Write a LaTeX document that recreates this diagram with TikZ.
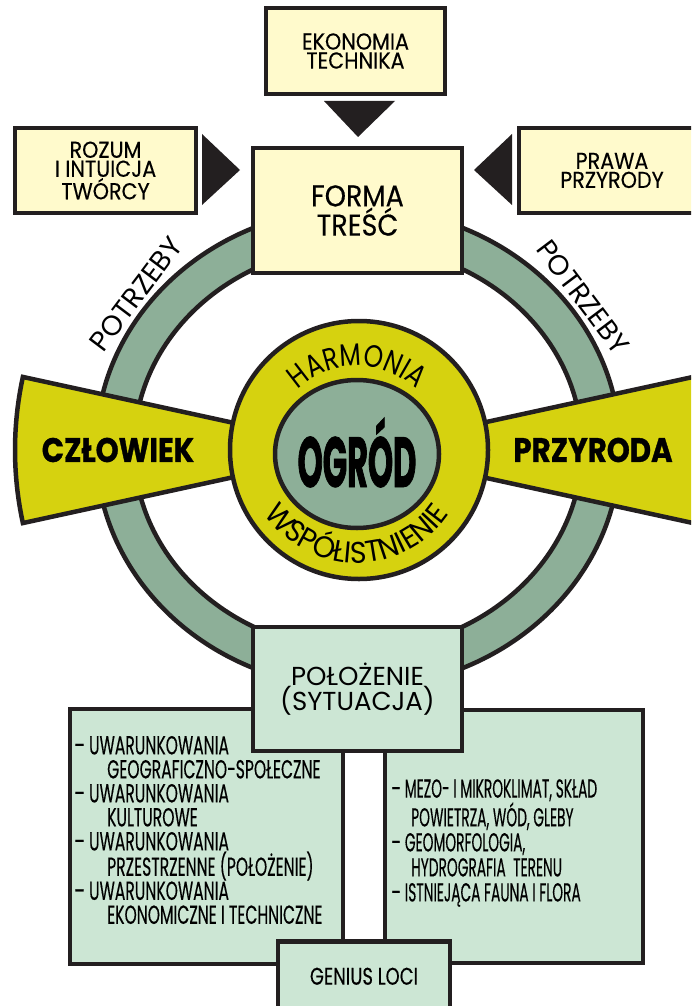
\documentclass[tikz,border=0pt]{standalone}
\usepackage{fontspec}
\setmainfont{Poppins}
\newfontfamily\labelfont[FakeStretch=0.9, FakeBold=0.3]{Poppins}
\newfontfamily\listfont[FakeStretch=0.6, FakeBold=0.3]{Poppins}
\newfontfamily\narrowlistfont[FakeStretch=0.53, FakeBold=0.3]{Poppins}
\newfontfamily\geniusfont[FakeStretch=0.75, FakeBold=0.3]{Poppins}
\newfontfamily\harmfont[FakeStretch=0.8]{Poppins}
\newfontfamily\wspfont[FakeStretch=0.95]{Poppins}
\newfontfamily\heavyfont[FakeStretch=0.86, BoldFeatures={FakeBold=1}]{Poppins}
\newfontfamily\ogrodfont[FakeStretch=0.45, BoldFeatures={FakeBold=1}]{Poppins}
\usetikzlibrary{decorations.text}

\definecolor{boxyellow}{RGB}{255,250,204}
\definecolor{boxgreen}{RGB}{204,230,212}
\definecolor{ringgreen}{RGB}{141,175,152}
\definecolor{olive}{RGB}{214,210,15}
\definecolor{ink}{RGB}{35,31,32}

\tikzset{
  yelbox/.style={draw=ink, line width=4.5pt, fill=boxyellow, inner sep=0pt, align=center,
    font=\labelfont\fontsize{23}{19}\selectfont},
  grnbox/.style={draw=ink, line width=4.5pt, fill=boxgreen, inner sep=0pt, align=center},
  listtext/.style={align=left, inner sep=0pt, font=\listfont\fontsize{26}{24}\selectfont},
  bowtie/.style={draw=ink, line width=4.5pt, fill=olive, line join=miter},
  heavy/.style={font=\heavyfont\bfseries\fontsize{34}{34}\selectfont},
  need/.style={font=\fontsize{28}{28}\selectfont, inner sep=0pt},
}

\begin{document}
\begin{tikzpicture}[x=1pt, y=-1pt]
\clip (0,0) rectangle (691,1006);
\coordinate (cen) at (358,450);
\coordinate (mid) at (357,452);

% ring of needs
\draw[ink, line width=4.5pt, fill=ringgreen, even odd rule]
  (358,448) ellipse[x radius=262pt, y radius=240pt]
  (358,448) ellipse[x radius=224pt, y radius=202pt];

% bow tie
\draw[bowtie] (cen) -- ([shift={(167.7:343pt)}]cen) arc[start angle=167.7, end angle=192.3, radius=343pt] -- cycle;
\draw[bowtie] (cen) -- ([shift={(-12.3:343pt)}]cen) arc[start angle=-12.3, end angle=12.3, radius=343pt] -- cycle;
\node[heavy] (czlowiek) at (118,450) {CZŁOWIEK};
\node[heavy] (przyroda) at (593,450) {PRZYRODA};

% centre
\draw[ink, line width=4.5pt, fill=olive] (359,450) circle[radius=129pt];
\draw[ink, line width=4.5pt, fill=ringgreen] (357,454) ellipse[x radius=82pt, y radius=74pt];
\node[font=\ogrodfont\bfseries\fontsize{71}{71}\selectfont, inner sep=0pt, anchor=base] (ogrod) at (357,487) {OGRÓD};
\path[decorate, decoration={text along path, text align=center,
  text={|\harmfont\fontsize{31}{31}\selectfont|HARMONIA}}]
  ([shift={(150:86pt)}]mid) arc[start angle=150, end angle=30, radius=86pt];
\path[decorate, decoration={text along path, text align=center,
  text={|\wspfont\fontsize{30}{30}\selectfont|WSPÓŁISTNIENIE}}]
  ([shift={(200:111pt)}]mid) arc[start angle=200, end angle=340, radius=111pt];

\node[need, rotate=53] (potrzebyl) at (136,294) {POTRZEBY};
\node[need, rotate=-53] (potrzebyr) at (583,297) {POTRZEBY};

% upper boxes
\node[yelbox, minimum width=179pt, minimum height=86pt] (ekon) at (355.5,51) {EKONOMIA\\TECHNIKA};
\node[yelbox, minimum width=181pt, minimum height=85pt] (rozum) at (105.5,170.5) {ROZUM\\I INTUICJA\\TWÓRCY};
\node[yelbox, minimum width=186pt, minimum height=85pt] (prawa) at (612,170.5) {PRAWA\\PRZYRODY};
\node[yelbox, minimum width=209pt, minimum height=125pt, font=\labelfont\fontsize{30}{24}\selectfont] (forma) at (357.5,210.5) {FORMA\\TREŚĆ};

\fill[ink] (324,101) -- (395,101) -- (358,137) -- cycle;
\fill[ink] (202,134) -- (202,205) -- (240,170) -- cycle;
\fill[ink] (512,134) -- (512,205) -- (474,170) -- cycle;

% lower boxes
\node[grnbox, minimum width=273pt, minimum height=255pt] (uwar) at (206.5,836.5) {};
\node[grnbox, minimum width=258pt, minimum height=253pt] (klimat) at (514,836.5) {};
\node[listtext, anchor=west] (uwartext) at (74,830) {–\,UWARUNKOWANIA\\
  \hspace*{33pt}GEOGRAFICZNO-SPOŁECZNE\\
  –\,UWARUNKOWANIA\\
  \hspace*{33pt}KULTUROWE\\
  –\,UWARUNKOWANIA\\
  \hspace*{33pt}PRZESTRZENNE (POŁOŻENIE)\\
  –\,UWARUNKOWANIA\\
  \hspace*{33pt}EKONOMICZNE I TECHNICZNE};
\node[listtext, anchor=west, font=\narrowlistfont\fontsize{26}{25}\selectfont] (klimattext) at (391,843) {–\,MEZO- I MIKROKLIMAT, SKŁAD\\
  \hspace*{20pt}POWIETRZA, WÓD, GLEBY\\
  –\,GEOMORFOLOGIA,\\
  \hspace*{20pt}HYDROGRAFIA\ \ TERENU\\
  –\,ISTNIEJĄCA FAUNA I FLORA};
\node[grnbox, minimum width=209pt, minimum height=124pt, font=\fontsize{26}{24}\selectfont] (polozenie) at (357.5,689) {POŁOŻENIE\\(SYTUACJA)};
\node[grnbox, anchor=north, minimum width=172pt, minimum height=70pt, font=\geniusfont\fontsize{24}{24}\selectfont] (genius) at (364,939) {GENIUS LOCI};
\end{tikzpicture}
\end{document}
